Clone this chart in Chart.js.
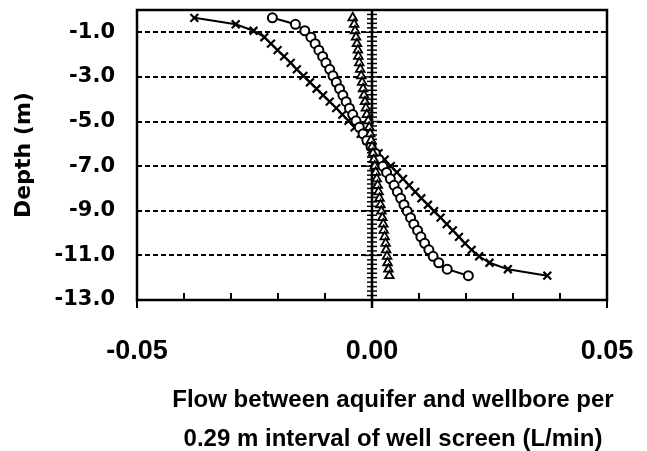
<!DOCTYPE html>
<html>
<head>
<meta charset="utf-8">
<script src="https://cdn.jsdelivr.net/npm/chart.js@4/dist/chart.umd.min.js"></script>
<style>
  body { margin: 0; background: #fff; }
  canvas { display: block; }
</style>
</head>
<body>
<canvas id="flowChart" width="647" height="451"></canvas>
<script>
// depth of each 0.29 m screen interval (m)
const depth = [-0.35, -0.64, -0.93, -1.22, -1.51, -1.80, -2.08, -2.37, -2.66, -2.95,
  -3.24, -3.53, -3.82, -4.11, -4.40, -4.69, -4.97, -5.26, -5.55, -5.84,
  -6.13, -6.42, -6.71, -7.00, -7.28, -7.57, -7.86, -8.15, -8.44, -8.73,
  -9.02, -9.31, -9.60, -9.88, -10.17, -10.46, -10.75, -11.04, -11.33, -11.62, -11.91];

// flow per interval (L/min)
const flowCross = [-0.0378, -0.0290, -0.0252, -0.0229, -0.0215, -0.0201, -0.0187, -0.0173, -0.0160, -0.0146,
  -0.0132, -0.0118, -0.0104, -0.0090, -0.0076, -0.0063, -0.0050, -0.0037, -0.0024, -0.0011,
  0.0001, 0.0014, 0.0027, 0.0040, 0.0053, 0.0066, 0.0079, 0.0092, 0.0105, 0.0119,
  0.0132, 0.0146, 0.0159, 0.0172, 0.0185, 0.0198, 0.0212, 0.0228, 0.0250, 0.0289, 0.0373];

const flowCircle = [-0.0212, -0.0163, -0.0143, -0.0130, -0.0121, -0.0113, -0.0105, -0.0098, -0.0090, -0.0083,
  -0.0076, -0.0069, -0.0062, -0.0055, -0.0048, -0.0041, -0.0034, -0.0027, -0.0019, -0.0011,
  -0.0002, 0.0007, 0.0015, 0.0023, 0.0031, 0.0039, 0.0047, 0.0054, 0.0061, 0.0068,
  0.0075, 0.0082, 0.0089, 0.0097, 0.0104, 0.0112, 0.0121, 0.0130, 0.0142, 0.0160, 0.0205];

const flowTriangle = [-0.0041, -0.0038, -0.0036, -0.0034, -0.0032, -0.0030, -0.0029, -0.0027, -0.0025, -0.0023,
  -0.0021, -0.0019, -0.0017, -0.0015, -0.0013, -0.0011, -0.0008, -0.0006, -0.0004, -0.0002,
  0.0000, 0.0002, 0.0004, 0.0006, 0.0008, 0.0010, 0.0012, 0.0014, 0.0016, 0.0018,
  0.0020, 0.0022, 0.0024, 0.0025, 0.0027, 0.0029, 0.0030, 0.0032, 0.0033, 0.0035, 0.0037];

const yTicks = [-13, -11, -9, -7, -5, -3, -1];
const xTicks = [-0.05, 0, 0.05];
const xTitle = ['Flow between aquifer and wellbore per', '0.29 m interval of well screen (L/min)'];
const yTitle = 'Depth (m)';

function points(flow) {
  return depth.map((d, i) => ({ x: flow[i], y: d }));
}

// keep the chart area where the reference has it, whatever the labels want
function noPadding(s) {
  s.paddingTop = 0;
  s.paddingBottom = 0;
  s.paddingLeft = 0;
  s.paddingRight = 0;
}

// plot box, the x = 0 axis with cross ticks, minor ticks on the bottom axis, x title
const frame = {
  id: 'frame',
  beforeDatasetsDraw(chart) {
    const { ctx, chartArea: a, scales: { x, y } } = chart;
    ctx.save();
    ctx.strokeStyle = '#000';

    const x0 = x.getPixelForValue(0);
    ctx.lineWidth = 2.5;
    ctx.beginPath();
    ctx.moveTo(x0, a.top);
    ctx.lineTo(x0, a.bottom + 8);
    ctx.stroke();

    ctx.lineWidth = 1.5;
    for (let i = 0; i <= 65; i++) {
      const py = y.getPixelForValue(-13 + i * 0.2);
      const len = i % 10 === 0 ? 8 : 5;
      ctx.beginPath();
      ctx.moveTo(x0 - len, py);
      ctx.lineTo(x0 + len, py);
      ctx.stroke();
    }

    ctx.lineWidth = 2;
    for (let i = -5; i <= 5; i++) {
      const px = x.getPixelForValue(i * 0.01);
      ctx.beginPath();
      if (i % 5 === 0) {
        ctx.moveTo(px, a.bottom - 6);
        ctx.lineTo(px, a.bottom + 8);
      } else {
        ctx.moveTo(px, a.bottom);
        ctx.lineTo(px, a.bottom - 7);
      }
      ctx.stroke();
    }

    ctx.lineWidth = 2.5;
    ctx.strokeRect(a.left, a.top, a.right - a.left, a.bottom - a.top);
    ctx.restore();
  },
  afterDraw(chart) {
    const { ctx, chartArea: a } = chart;
    ctx.save();
    ctx.fillStyle = '#000';
    ctx.font = 'bold 24px "Liberation Sans", Arial, sans-serif';
    ctx.textAlign = 'center';
    ctx.textBaseline = 'middle';
    const cx = (a.left + a.right) / 2 + 21;
    ctx.fillText(xTitle[0], cx, 400);
    ctx.fillText(xTitle[1], cx, 439);
    ctx.restore();
  }
};

const common = {
  showLine: true,
  borderColor: '#000',
  borderWidth: 2,
  backgroundColor: '#fff',
  pointBorderColor: '#000',
  pointBackgroundColor: '#fff'
};

new Chart(document.getElementById('flowChart'), {
  type: 'scatter',
  data: {
    datasets: [
      Object.assign({}, common, {
        label: 'triangle',
        data: points(flowTriangle),
        pointStyle: 'triangle',
        pointRadius: 5,
        pointBorderWidth: 1.8
      }),
      Object.assign({}, common, {
        label: 'circle',
        data: points(flowCircle),
        pointStyle: 'circle',
        pointRadius: 4.5,
        pointBorderWidth: 2
      }),
      Object.assign({}, common, {
        label: 'cross',
        data: points(flowCross),
        pointStyle: 'crossRot',
        pointRadius: 5.5,
        pointBorderWidth: 2.2
      })
    ]
  },
  options: {
    responsive: false,
    animation: false,
    devicePixelRatio: 1,
    layout: { padding: { top: 10, right: 40, left: 0, bottom: 0 } },
    plugins: { legend: { display: false }, tooltip: { enabled: false } },
    scales: {
      x: {
        type: 'linear',
        min: -0.05,
        max: 0.05,
        afterBuildTicks: s => { s.ticks = xTicks.map(v => ({ value: v })); },
        afterFit: s => { s.height = 151; noPadding(s); },
        grid: { display: false, drawTicks: false },
        border: { display: false },
        ticks: {
          padding: 35,
          color: '#000',
          font: { family: '"Liberation Sans", Arial, sans-serif', weight: 'bold', size: 27 },
          callback: v => v.toFixed(2)
        }
      },
      y: {
        type: 'linear',
        min: -13,
        max: 0,
        afterBuildTicks: s => { s.ticks = yTicks.map(v => ({ value: v })); },
        afterFit: s => { s.width = 137; noPadding(s); },
        grid: {
          drawTicks: false,
          lineWidth: 2,
          color: c => (c.tick && c.tick.value > -13 ? '#000' : 'rgba(0,0,0,0)')
        },
        border: { display: false, dash: [5, 3] },
        title: {
          display: true,
          text: yTitle,
          color: '#000',
          padding: { top: 11, bottom: 0 },
          font: { family: '"DejaVu Sans", sans-serif', weight: 'bold', size: 22 }
        },
        ticks: {
          padding: 22,
          color: '#000',
          font: { family: '"DejaVu Sans", sans-serif', weight: 'bold', size: 21 },
          callback: v => v.toFixed(1)
        }
      }
    }
  },
  plugins: [frame]
});
</script>
</body>
</html>
